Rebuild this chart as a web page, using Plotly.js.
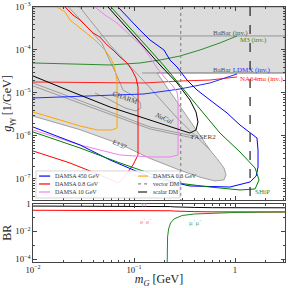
<!DOCTYPE html>
<html><head><meta charset="utf-8">
<script src="https://cdn.plot.ly/plotly-3.0.1.min.js"></script>
<style>html,body{margin:0;padding:0;background:#fff}</style>
</head><body><div id="c" style="width:288px;height:288px"></div>
<script>
// ---- data (m_G in GeV, g in 1/GeV) ----
const grayRegionM = [0.01, 3.13, 3.13, 0.169, 0.255, 0.358, 0.45, 0.565, 0.679, 0.778, 0.815, 0.778, 0.634, 0.45, 0.285, 0.144, 0.0726, 0.0292, 0.01];
const grayRegionG = [1e-3, 1e-3, 2.92e-5, 2.92e-5, 7.25e-6, 2.23e-6, 1.06e-6, 4.72e-7, 2.77e-7, 1.8e-7, 1.24e-7, 9.5e-8, 8.98e-8, 1.1e-7, 1.6e-7, 3.0e-7, 6.5e-7, 1.4e-6, 2.9e-6];
const babarUpperM = [0.046, 3.13];
const babarUpperG = [2.12e-4, 2.12e-4];
const babarLowerM = [0.12, 3.13];
const babarLowerG = [2.92e-5, 2.92e-5];
// internal boundaries of older beam-dump limits
const charmM = [0.0225, 0.0330, 0.048, 0.056, 0.066, 0.0778, 0.0955, 0.1146, 0.1172, 0.1047, 0.0815, 0.0578, 0.0411];
const charmG = [1e-3, 3.8e-4, 1.46e-4, 6.5e-5, 2.9e-5, 1.17e-5, 8.98e-6, 6.18e-6, 4.48e-6, 3.81e-6, 4.48e-6, 6.87e-6, 1e-5];
const nucalUpM = [0.0290, 0.0578, 0.1227, 0.267, 0.565];
const nucalUpG = [1e-3, 1.31e-4, 2e-5, 2.62e-6, 4.72e-7];
const nucalLow1M = [0.01, 0.0578, 0.144, 0.384];
const nucalLow1G = [1.71e-5, 3.61e-6, 1.62e-6, 1e-6];
const nucalLow2M = [0.01, 0.0578, 0.144, 0.384];
const nucalLow2G = [1.46e-5, 3.25e-6, 1.46e-6, 8.98e-7];

const orangeM = [0.0173, 0.0208, 0.0232, 0.0292, 0.0343, 0.0411, 0.046, 0.0516, 0.0578, 0.062, 0.0649, 0.0664, 0.0679, 0.0679, 0.0605, 0.0431, 0.0292, 0.0185, 0.01];
const orangeG = [1e-3, 7.65e-4, 5e-4, 3.25e-4, 2.49e-4, 1.71e-4, 1.31e-4, 1e-4, 6.87e-5, 4.99e-5, 3.43e-5, 2.62e-5, 2e-5, 1.53e-6, 1.38e-6, 1.38e-6, 1.71e-6, 2.36e-6, 3.61e-6];

const redM = [0.0208, 0.0249, 0.0292, 0.0343, 0.0393, 0.046, 0.0541, 0.062, 0.0726, 0.0853, 0.0955, 0.1047, 0.1096, 0.1096, 0.0977, 0.0815, 0.0695, 0.046, 0.0232, 0.01];
const redG = [1e-3, 6.5e-4, 5e-4, 3.43e-4, 2.49e-4, 2.0e-4, 1.31e-4, 1e-4, 6.87e-5, 4.99e-5, 3.43e-5, 2.23e-5, 1.38e-5, 3.61e-7, 2.12e-7, 1.17e-7, 8.07e-8, 1.24e-7, 2.36e-7, 4.48e-7];

const pinkM = [0.0411, 0.0516, 0.0679, 0.0912, 0.1227, 0.144, 0.169, 0.203, 0.238, 0.267, 0.273, 0.273, 0.227, 0.144, 0.0726, 0.0292, 0.01];
const pinkG = [1e-3, 6.5e-4, 4.25e-4, 2.23e-4, 1.17e-4, 6.87e-5, 3.81e-5, 2.23e-5, 1.54e-5, 1.05e-5, 6.87e-6, 3.61e-7, 3.25e-7, 3.25e-7, 3.61e-7, 6.18e-7, 1.38e-6];

const blueM = [0.0695, 0.0912, 0.1146, 0.144, 0.198, 0.227, 0.267, 0.335, 0.421, 0.565, 0.834, 1.12, 1.41, 1.65, 1.69, 1.69, 1.62, 1.41, 0.892, 0.358, 0.144, 0.0578, 0.0292, 0.01];
const blueG = [1e-3, 5e-4, 2.9e-4, 1.71e-4, 1e-4, 5.85e-5, 4.02e-5, 2e-5, 1.17e-5, 6.87e-6, 3.43e-6, 1.8e-6, 1.17e-6, 8.98e-7, 4.72e-7, 1.9e-7, 1.17e-7, 8.51e-8, 6.5e-8, 6.87e-8, 1.11e-7, 2.77e-7, 6.18e-7, 1.62e-6];

const faserM = [0.0553, 0.0726, 0.0977, 0.1285, 0.181, 0.267, 0.358, 0.411, 0.43, 0.411, 0.358, 0.267, 0.144, 0.0578, 0.0232, 0.01];
const faserG = [1e-3, 5e-4, 2.23e-4, 1.11e-4, 4.48e-5, 1.71e-5, 6.87e-6, 3.61e-6, 2.12e-6, 1.38e-6, 1.17e-6, 1.46e-6, 2.36e-6, 4.72e-6, 1.11e-5, 2.49e-5];

const shipM = [0.0592, 0.0778, 0.1047, 0.144, 0.203, 0.358, 0.71, 1.12, 1.58, 1.73, 1.58, 1.12, 0.565, 0.267, 0.0726, 0.0292, 0.01];
const shipG = [1e-3, 5e-4, 2.23e-4, 1e-4, 4.02e-5, 8.07e-6, 1.17e-6, 4.25e-7, 1.8e-7, 9.5e-8, 5.85e-8, 5.55e-8, 6.5e-8, 8.07e-8, 2.36e-7, 5.26e-7, 1.24e-6];

const m3M = [0.01, 0.0292, 0.0578, 0.1146, 0.181, 0.285, 0.45, 0.71, 1.047];
const m3G = [4.99e-5, 4.72e-5, 4.48e-5, 4.99e-5, 5.85e-5, 7.25e-5, 1e-4, 1.46e-4, 2.12e-4];
const na64M = [0.01, 0.046, 0.1256, 0.285, 0.565, 1.047];
const na64G = [1.8e-5, 1.71e-5, 1.71e-5, 1.9e-5, 2e-5, 2.36e-5];
const ldmxM = [0.01, 0.046, 0.1256, 0.285, 0.565, 1.047];
const ldmxG = [7.65e-6, 8.51e-6, 9.48e-6, 1.24e-5, 1.71e-5, 2.77e-5];

const vectorDM_M = 0.29;
const scalarDM_M = 1.41;

// branching ratios
const brM = [0.01, 0.1, 0.2, 0.2114, 0.215, 0.22, 0.23, 0.25, 0.3, 0.4, 0.6, 1.0, 2.0, 3.13];
const brGG = [0.667, 0.667, 0.667, 0.667, 0.66, 0.64, 0.61, 0.58, 0.55, 0.53, 0.51, 0.505, 0.5, 0.5];
const brEE = [0.333, 0.333, 0.333, 0.333, 0.33, 0.32, 0.305, 0.29, 0.275, 0.265, 0.255, 0.252, 0.25, 0.25];
const brMuM = [0.2114, 0.212, 0.215, 0.22, 0.23, 0.25, 0.3, 0.4, 0.6, 1.0, 2.0, 3.13];
const brMuMu = [1e-6, 2e-4, 0.004, 0.015, 0.04, 0.08, 0.14, 0.18, 0.21, 0.23, 0.245, 0.25];

// ---- plot ----
const serif = "Liberation Serif, DejaVu Serif, serif";
const t = [];
function line(x, y, color, width, dash, xa, ya, extra) {
  return Object.assign({x, y, type: 'scatter', mode: 'lines', xaxis: xa || 'x2', yaxis: ya || 'y2',
    line: {color, width: width || 1, dash: dash || 'solid'}, showlegend: false, hoverinfo: 'skip'}, extra || {});
}
t.push(line(grayRegionM, grayRegionG, '#8c8c8c', 0.8, 'solid', 'x2', 'y2', {fill: 'toself', fillcolor: '#dcdcdc'}));
t.push(line(charmM, charmG, '#8c8c8c', 0.8));
t.push(line(nucalUpM, nucalUpG, '#8c8c8c', 0.8));
t.push(line(nucalLow1M, nucalLow1G, '#8c8c8c', 0.8));
t.push(line(nucalLow2M, nucalLow2G, '#8c8c8c', 0.8));
t.push(line(babarUpperM, babarUpperG, '#8c8c8c', 0.9));
t.push(line(babarLowerM, babarLowerG, '#8c8c8c', 0.9));
t.push(line(m3M, m3G, '#2e8b2e', 1));
t.push(line(na64M, na64G, '#ff2020', 1));
t.push(line(ldmxM, ldmxG, '#2030ff', 1));
t.push(line(orangeM, orangeG, '#ffa500', 1));
t.push(line(redM, redG, '#ff0000', 1));
t.push(line(pinkM, pinkG, '#ee82ee', 1));
t.push(line(blueM, blueG, '#0000ff', 1));
t.push(line(faserM, faserG, '#000000', 1));
t.push(line(shipM, shipG, '#008000', 1));
t.push(line([vectorDM_M, vectorDM_M], [1e-3, 3.2e-8], '#888888', 1.2, 'dot'));
t.push(line([scalarDM_M, scalarDM_M], [1e-3, 3.2e-8], '#222222', 1.2, 'dash'));
// BR panel
t.push(line(brM, brGG, '#000000', 1, 'solid', 'x', 'y'));
t.push(line(brM, brEE, '#ff0000', 1, 'solid', 'x', 'y'));
t.push(line(brMuM, brMuMu, '#1f8a1f', 1, 'solid', 'x', 'y'));

const axBase = {type: 'log', showline: true, linecolor: '#444', linewidth: 1, mirror: 'allticks', ticks: 'inside',
  ticklen: 4, tickcolor: '#444', showgrid: false, zeroline: false, exponentformat: 'power',
  tickfont: {family: serif, size: 7, color: '#222'},
  minor: {ticks: 'inside', ticklen: 2, tickcolor: '#444', showgrid: false}};
const xr = [-2, 0.495];
const layout = {
  width: 288, height: 288, margin: {l: 33, r: 3, t: 7, b: 26},
  paper_bgcolor: '#fff', plot_bgcolor: '#fff', showlegend: false,
  xaxis: Object.assign({}, axBase, {range: xr, anchor: 'y', dtick: 1,
    title: {text: '<i>m</i><sub><i>G</i></sub> [GeV]', font: {family: serif, size: 12, color: '#222'}, standoff: 1}}),
  xaxis2: Object.assign({}, axBase, {range: xr, anchor: 'y2', matches: 'x', showticklabels: false, dtick: 1}),
  yaxis: Object.assign({}, axBase, {domain: [0, 0.229], range: [-4.2, 0], dtick: 2, tick0: 0,
    title: {text: 'BR', font: {family: serif, size: 12, color: '#222'}, standoff: 4}}),
  yaxis2: Object.assign({}, axBase, {domain: [0.243, 1], range: [-7.49, -3], dtick: 1,
    title: {text: '<i>g</i><sub>γγ</sub> [1/GeV]', font: {family: serif, size: 12, color: '#222'}, standoff: 3}}),
  shapes: [
    {type: 'rect', xref: 'paper', yref: 'paper', x0: 0.012, x1: 0.583, y0: 0.251, y1: 0.357,
      line: {color: '#cccccc', width: 0.8}, fillcolor: 'rgba(255,255,255,0.9)', layer: 'above'},
    {type: 'line', xref: 'paper', yref: 'paper', x0: 0.024, x1: 0.068, y0: 0.337, y1: 0.337, line: {color: '#0000ff', width: 1.2}},
    {type: 'line', xref: 'paper', yref: 'paper', x0: 0.024, x1: 0.068, y0: 0.306, y1: 0.306, line: {color: '#ff0000', width: 1.2}},
    {type: 'line', xref: 'paper', yref: 'paper', x0: 0.024, x1: 0.068, y0: 0.2745, y1: 0.2745, line: {color: '#ee82ee', width: 1.2}},
    {type: 'line', xref: 'paper', yref: 'paper', x0: 0.417, x1: 0.456, y0: 0.337, y1: 0.337, line: {color: '#ffa500', width: 1.2}},
    {type: 'line', xref: 'paper', yref: 'paper', x0: 0.417, x1: 0.456, y0: 0.306, y1: 0.306, line: {color: '#888888', width: 1.2, dash: 'dot'}},
    {type: 'line', xref: 'paper', yref: 'paper', x0: 0.417, x1: 0.456, y0: 0.2745, y1: 0.2745, line: {color: '#222222', width: 1.2, dash: 'dash'}}
  ],
  annotations: []
};
function ann(text, x, y, color, size, xanchor, angle) {
  layout.annotations.push({text, x, y, xref: 'paper', yref: 'paper', showarrow: false,
    xanchor: xanchor || 'center', yanchor: 'middle', textangle: angle || 0,
    font: {family: serif, size: size || 6, color: color || '#333'}});
}
ann('DAMSA 450 GeV', 0.079, 0.337, '#333', 6, 'left');
ann('DAMSA 0.8 GeV', 0.079, 0.306, '#333', 6, 'left');
ann('DAMSA 10 GeV', 0.079, 0.2745, '#333', 6, 'left');
ann('DAMSA 0.3 GeV', 0.468, 0.337, '#333', 6, 'left');
ann('vector DM', 0.468, 0.306, '#333', 6, 'left');
ann('scalar DM', 0.468, 0.2745, '#333', 6, 'left');
ann('BaBar (inv.)', 0.706, 0.898, '#555', 7, 'left');
ann('M3 (inv.)', 0.813, 0.871, '#2e8b2e', 7, 'left');
ann("BaBar <span style='color:#2030ff'>LDMX (inv.)</span>", 0.706, 0.753, '#555', 7, 'left');
ann('NA64mu (inv.)', 0.813, 0.718, '#ff2020', 7, 'left');
ann('CHARM', 0.365, 0.643, '#444', 7, 'center', 20);
ann('<i>NuCal</i>', 0.516, 0.565, '#444', 7, 'center', 25);
ann('E137', 0.345, 0.459, '#444', 7, 'center', 25);
ann('FASER2', 0.675, 0.49, '#444', 7, 'center');
ann('SHiP', 0.909, 0.275, '#2e8b2e', 7, 'center');
ann('γγ', 0.44, 0.226, '#999999', 7, 'center');
ann('e<sup>+</sup>e<sup>−</sup>', 0.448, 0.158, '#ff7070', 7, 'center');
ann('μ<sup>+</sup>μ<sup>−</sup>', 0.643, 0.155, '#60aa60', 7, 'center');

Plotly.newPlot('c', t, layout, {staticPlot: true, displayModeBar: false});
</script></body></html>
